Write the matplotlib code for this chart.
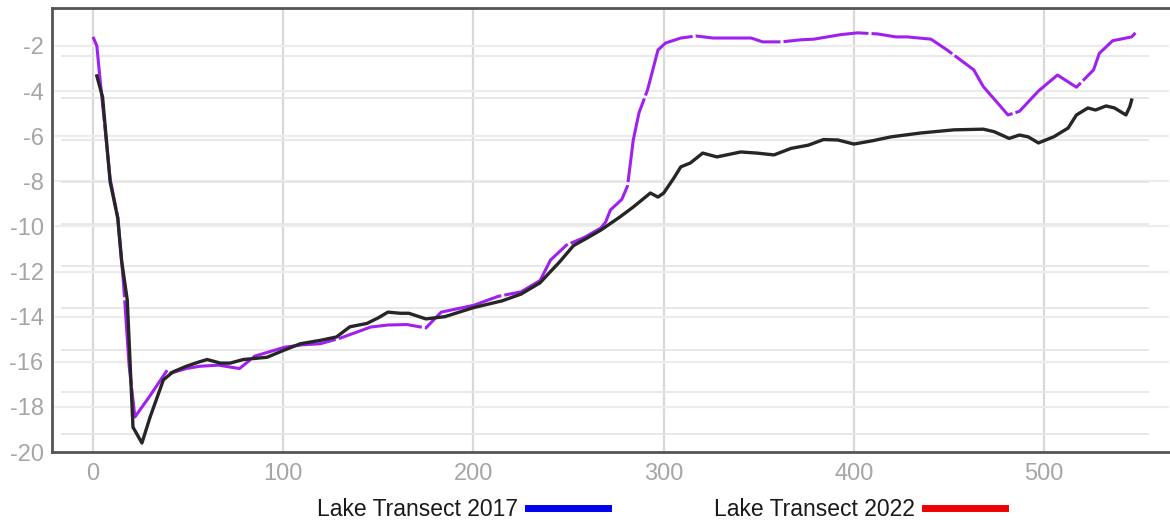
import numpy as np
import matplotlib.pyplot as plt
from matplotlib.lines import Line2D

# distance along transect (m) and bed elevation (m)
x_2022 = [0, 2, 3.7, 9, 13, 16, 19, 22, 30, 39, 41, 49, 56, 66, 77, 85, 101, 110, 119.5,
          130, 146, 155, 165, 175, 183, 200, 213, 225, 235, 240.5, 249, 258, 267, 269.5, 272,
          278, 281, 284, 287, 291.5, 297, 301, 309, 317, 326, 346, 352, 362, 372, 379, 393,
          402, 412.6, 422, 428, 440.5, 449, 463, 468, 481, 487, 497, 507, 517, 526, 529,
          536, 546, 548]
y_2022 = [-1.6, -2.0, -3.5, -7.9, -9.6, -12.5, -16.2, -18.45, -17.5, -16.37, -16.5, -16.3,
          -16.2, -16.15, -16.3, -15.75, -15.35, -15.25, -15.2, -14.95, -14.46, -14.37, -14.35,
          -14.5, -13.8, -13.5, -13.1, -12.9, -12.4, -11.49, -10.82, -10.5, -10.07, -9.8, -9.27,
          -8.8, -8.2, -6.17, -4.97, -3.95, -2.18, -1.87, -1.65, -1.56, -1.65, -1.65, -1.82,
          -1.82, -1.73, -1.7, -1.5, -1.42, -1.47, -1.6, -1.6, -1.7, -2.18, -3.06, -3.8, -5.06,
          -4.9, -4.0, -3.29, -3.83, -3.06, -2.33, -1.77, -1.6, -1.42]

x_2017 = [2, 5, 9, 13, 15, 18, 21, 25.7, 30, 37, 42, 49, 56, 60, 67, 72, 79, 91.5, 100, 109,
          119.5, 128, 135, 144, 150, 155, 161.6, 166, 175, 185, 200, 215, 225, 235, 240.5,
          245, 252.6, 259, 267, 277, 284, 293, 297, 300, 305, 309, 314, 320.5, 328, 340.5,
          349, 358, 367, 376, 384, 391.6, 400, 410, 419.5, 435, 452.6, 468, 473.7, 481.6,
          487, 491.6, 497, 505, 512.6, 517, 523, 527, 532.6, 537, 543, 545, 546]
y_2017 = [-3.33, -4.26, -8.03, -9.63, -11.5, -13.27, -18.9, -19.6, -18.45, -16.8, -16.45,
          -16.2, -16.0, -15.9, -16.06, -16.06, -15.9, -15.8, -15.5, -15.2, -15.05, -14.9,
          -14.45, -14.3, -14.05, -13.8, -13.85, -13.85, -14.1, -14.0, -13.6, -13.3, -13.0,
          -12.5, -12.0, -11.6, -10.85, -10.55, -10.16, -9.58, -9.14, -8.52, -8.7, -8.52,
          -7.9, -7.36, -7.19, -6.75, -6.92, -6.7, -6.75, -6.83, -6.54, -6.4, -6.15, -6.17,
          -6.35, -6.2, -6.03, -5.86, -5.72, -5.69, -5.8, -6.1, -5.95, -6.03, -6.3, -6.03,
          -5.64, -5.06, -4.75, -4.84, -4.66, -4.75, -5.06, -4.7, -4.4]

x_ticks = [0, 100, 200, 300, 400, 500]
y_ticks = [-20, -18, -16, -14, -12, -10, -8, -6, -4, -2]
legend_labels = ["Lake Transect 2017", "Lake Transect 2022"]

plt.rcParams['font.family'] = ['Liberation Sans', 'DejaVu Sans']
plt.rcParams['axes.unicode_minus'] = False

fig = plt.figure(figsize=(11.7, 5.21), dpi=100)
ax = fig.add_axes([0.0444, 0.1324, 0.955, 0.8522])

ax.set_xlim(-21.6, 565.8)
ax.set_ylim(-20, -0.32)

# background grid (two overlaid scales)
for xv in x_ticks:
    ax.axvline(xv, color='#d9d9d9', lw=1.6, zorder=0)
for yv in y_ticks[1:]:
    ax.axhline(yv, color='#ececec', lw=1.6, zorder=0)
ax.hlines(np.arange(-19.22, -1.0, 1.862), -17, 555, color='#e6e6e6', lw=1.3, zorder=0)

ax.plot(x_2022, y_2022, color='#a020f0', lw=2.2, ls=(0, (28, 1.0)), zorder=2)
ax.plot(x_2017, y_2017, color='#262626', lw=2.4, zorder=3)

ax.set_xticks(x_ticks)
ax.set_yticks(y_ticks)
ax.tick_params(length=0, labelsize=17, labelcolor='#a6a6a6', pad=8)
ax.tick_params(axis='y', pad=6)

for side in ['left', 'top', 'bottom']:
    ax.spines[side].set_color('#555555')
    ax.spines[side].set_linewidth(2)
ax.spines['right'].set_visible(False)

handles = [Line2D([0], [0], color='#0000ee', lw=5),
           Line2D([0], [0], color='#ee0000', lw=5)]
fig.legend(handles, legend_labels, loc='center', bbox_to_anchor=(0.565, 0.022), ncol=2,
           frameon=False, markerfirst=False, fontsize=16.5, handlelength=3.5,
           handletextpad=0.45, columnspacing=4.6, labelcolor='#1a1a1a')

fig.savefig('out.png', dpi=100)
